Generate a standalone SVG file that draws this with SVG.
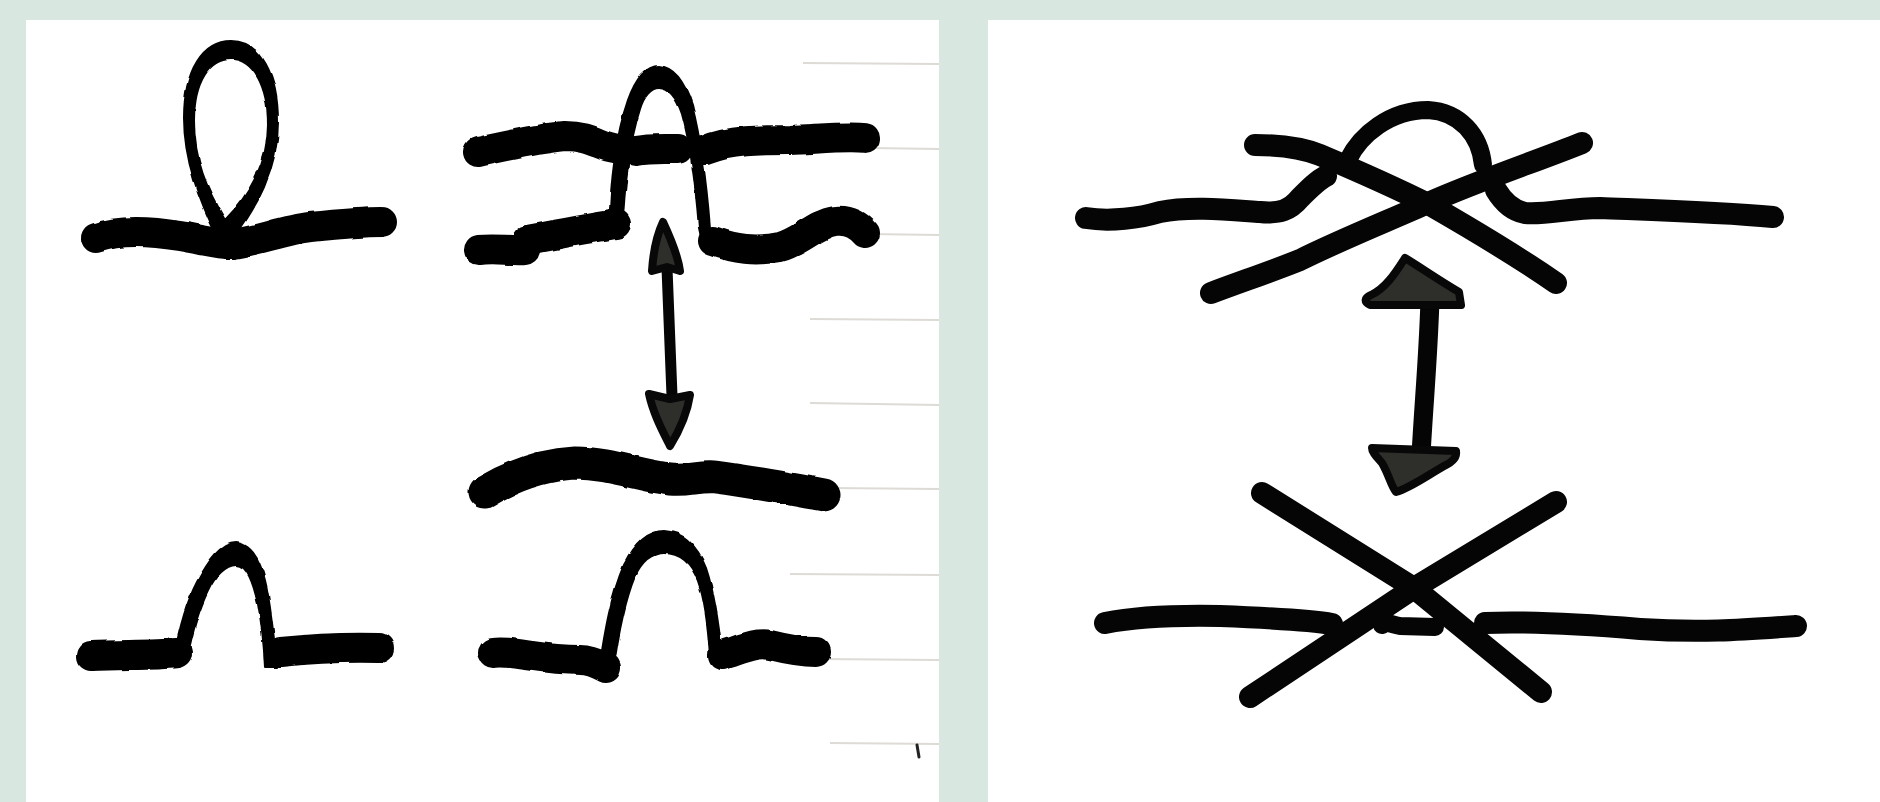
<svg xmlns="http://www.w3.org/2000/svg" width="1880" height="802" viewBox="0 0 1880 802">
<defs>
<style>
.bg{fill:#d8e7e0}
.panel{fill:#ffffff}
.rule{stroke:#dedbd6;stroke-width:2;fill:none}
.ink{fill:none;stroke:#050505;stroke-linecap:round;stroke-linejoin:round}
.fillink{fill:#050505;stroke:#050505;stroke-width:2;stroke-linejoin:round;fill-rule:evenodd}
.w33{stroke-width:33}
.w30{stroke-width:30}
.w22{stroke-width:22}
.w18{stroke-width:18}
.head{fill:#2e2e2b;stroke:#080808;stroke-width:8;stroke-linejoin:round}
</style>
<filter id="rough" filterUnits="userSpaceOnUse" x="0" y="0" width="1880" height="802">
<feTurbulence type="fractalNoise" baseFrequency="0.06" numOctaves="2" seed="3" result="n"/>
<feDisplacementMap in="SourceGraphic" in2="n" scale="3" xChannelSelector="R" yChannelSelector="G"/>
</filter>
</defs>
<rect class="bg" x="0" y="0" width="1880" height="802"/>
<rect class="panel" x="26" y="20" width="913" height="782"/>
<rect class="panel" x="988" y="20" width="892" height="782"/>
<g id="paper-rules">
<path class="rule" d="M803,63 L939,64"/>
<path class="rule" d="M870,148 L939,149"/>
<path class="rule" d="M870,234 L939,235"/>
<path class="rule" d="M810,319 L939,320"/>
<path class="rule" d="M810,403 L939,405"/>
<path class="rule" d="M830,488 L939,489"/>
<path class="rule" d="M790,574 L939,575"/>
<path class="rule" d="M820,659 L939,660"/>
<path class="rule" d="M830,743 L939,744"/>
<path d="M917,745 L919,757" stroke="#222" stroke-width="3" stroke-linecap="round"/>
</g>
<g id="loop-strand" filter="url(#rough)">
<path class="ink w30" d="M96,238 C 120,229 150,231 180,236 C 205,240 220,245 234,244 C 260,240 285,230 310,227 C 340,224 365,222 382,222"/>
<path class="fillink" d="M218,238 C 199,200 184,160 184,118 C 184,70 203,41 231,41 C 261,41 278,75 278,122 C 278,170 256,208 232,240 Z M225,220 C 207,190 194,160 194,121 C 194,82 209,59 231,59 C 253,59 268,86 268,125 C 268,163 249,196 225,220 Z"/>
</g>
<g id="hump-left" filter="url(#rough)">
<path class="ink w30" d="M91,656 C 120,654 150,656 177,653"/>
<path class="fillink" d="M174,657 C 179,630 185,605 197,582 C 209,560 221,543 236,543 C 253,544 263,565 268,595 C 273,625 275,650 277,667 L 265,667 C 264,645 262,625 258,604 C 253,582 247,565 236,565 C 226,565 215,576 208,591 C 198,611 192,633 187,659 Z"/>
<path class="ink w30" d="M281,652 C 310,649 345,647 379,648"/>
</g>
<g id="double-strand-top" filter="url(#rough)">
<path class="ink w30" d="M478,152 C 510,145 540,138 565,136 C 590,136 600,146 614,148"/>
<path class="ink w30" d="M636,151 C 650,148 665,149 678,149"/>
<path class="ink w30" d="M706,150 C 730,140 760,140 790,140 C 830,138 850,136 865,138"/>
<path class="ink w30" d="M479,250 C 495,248 510,251 525,250 L 527,240 C 560,234 590,228 616,224"/>
<path class="fillink" d="M609,236 C 610,190 614,140 628,100 C 636,78 647,66 659,66 C 673,67 684,80 692,105 C 701,140 707,190 710,228 C 712,235 716,239 721,241 L 712,248 C 705,244 700,237 699,228 C 696,190 691,146 682,114 C 676,96 669,88 659,88 C 651,88 644,96 640,109 C 628,146 624,190 622,236 Z"/>
<path class="ink w30" d="M713,241 C 735,249 755,252 780,247 C 800,242 815,224 835,221 C 850,219 860,227 865,233"/>
</g>
<g id="single-strand" filter="url(#rough)">
<path class="ink w33" d="M485,492 C 510,477 540,465 575,463 C 610,463 640,476 670,479 C 690,481 700,475 715,477 C 760,483 800,491 824,495"/>
</g>
<g id="hump-right" filter="url(#rough)">
<path class="ink w30" d="M493,653 C 510,650 540,660 580,660 C 592,660 600,665 606,668"/>
<path class="fillink" d="M599,670 C 605,630 611,595 624,565 C 635,543 648,531 664,531 C 683,532 697,545 706,568 C 715,595 719,625 722,656 L 710,656 C 708,625 705,600 698,581 C 691,562 679,553 664,553 C 651,553 642,561 635,576 C 625,600 618,635 613,672 Z"/>
<path class="ink w30" d="M723,655 C 740,650 755,642 770,645 C 790,650 805,652 816,652"/>
</g>
<g id="crossing-top">
<path class="ink w22" d="M1086,218 C 1110,222 1140,218 1160,212 C 1190,206 1230,210 1260,212 C 1280,214 1290,210 1300,198 C 1310,188 1318,180 1326,176"/>
<path class="ink w22" d="M1496,190 C 1502,200 1510,210 1525,213 C 1545,215 1570,208 1600,208 C 1650,210 1720,212 1773,217"/>
<path class="ink w18" d="M1348,160 C 1360,135 1390,110 1428,110 C 1460,112 1480,135 1483,165"/>
<path class="ink w22" d="M1255,145 C 1280,145 1300,147 1320,155 C 1360,172 1400,190 1430,205 C 1470,228 1520,258 1556,283"/>
<path class="ink w22" d="M1211,293 C 1240,282 1270,272 1300,260 C 1340,240 1390,220 1428,203 C 1480,180 1540,160 1582,143"/>
</g>
<g id="crossing-bottom">
<path class="ink w22" d="M1262,493 L 1414,588 L 1541,692"/>
<path class="ink w22" d="M1556,502 L 1414,588 L 1250,697"/>
<path class="ink w22" d="M1105,623 C 1130,618 1170,615 1220,616 C 1270,618 1310,620 1332,624"/>
<path class="ink w18" d="M1382,625 C 1385,621 1390,624 1400,626 L 1435,627"/>
<path class="ink w22" d="M1485,623 C 1530,621 1580,624 1640,629 C 1700,633 1740,630 1796,626"/>
</g>
<g id="connectors">
<path class="ink" stroke-width="11" d="M667,268 L 672,396"/>
<path class="head" d="M663,222 C 670,237 678,255 680,271 L 667,267 L 652,271 C 653,255 656,237 663,222 Z"/>
<path class="head" d="M649,394 L 670,399 L 690,395 C 687,415 678,433 670,446 C 662,430 653,413 649,394 Z"/>
<path class="ink" stroke-width="19" d="M1430,300 C 1428,360 1424,400 1421,455"/>
<path class="head" d="M1405,258 C 1420,267 1440,281 1459,292 L 1461,305 L 1370,305 C 1364,302 1364,298 1371,295 C 1386,288 1396,272 1405,258 Z"/>
<path class="head" d="M1372,448 L 1456,451 C 1457,457 1453,462 1444,466 C 1425,477 1410,488 1396,492 C 1391,486 1389,475 1382,463 C 1376,456 1372,452 1372,448 Z"/>
</g>
</svg>
